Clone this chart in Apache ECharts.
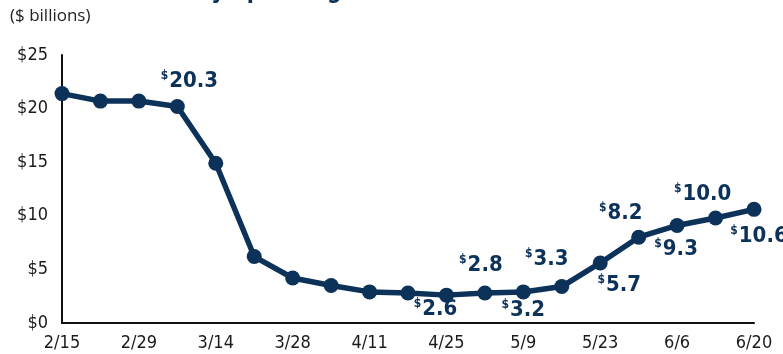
<!DOCTYPE html>
<html>
<head>
<meta charset="utf-8">
<script src="https://cdn.jsdelivr.net/npm/echarts@6/dist/echarts.min.js"></script>
<style>
html,body{margin:0;padding:0;background:#fff;}
#chart{width:783px;height:354px;}
</style>
</head>
<body>
<div id="chart"></div>
<script>
// ---- data ----
var weeks = ['2/15','2/22','2/29','3/7','3/14','3/21','3/28','4/4','4/11','4/18','4/25','5/2','5/9','5/16','5/23','5/30','6/6','6/13','6/20'];
var spending = [21.4, 20.7, 20.7, 20.2, 14.9, 6.2, 4.2, 3.5, 2.9, 2.8, 2.6, 2.8, 2.9, 3.4, 5.6, 8.0, 9.1, 9.8, 10.6];
var labelTexts = [null, null, null, '20.3', null, null, null, null, null, null, '2.6', '2.8', '3.2', '3.3', '5.7', '8.2', '9.3', '10.0', '10.6'];
var yTicks = [0, 5, 10, 15, 20, 25];

// ---- styling (label placement offsets relative to point) ----
var NAVY = '#0c325a';
var labelOffsets = {3:[12,-25],10:[-11,14],11:[-4,-28],12:[0,18],13:[-15,-27],14:[19,22],15:[-18,-24],16:[-1,24],17:[-13,-24],18:[5,27]};
var FONT = '"DejaVu Sans Condensed","DejaVu Sans",sans-serif';

var seriesData = spending.map(function(v, i){
  var d = {value: v};
  if (labelTexts[i]) {
    d.label = {
      show: true,
      position: 'inside',
      offset: labelOffsets[i],
      formatter: '{s|$}{v|' + labelTexts[i] + '}'
    };
  }
  return d;
});

var chart = echarts.init(document.getElementById('chart'), null, {renderer:'canvas'});
chart.setOption({
  animation: false,
  backgroundColor: '#fff',
  graphic: [
    {type:'text', left: 8, top: -19, style:{text:'U.S. Travel Weekly Spending', fill: NAVY, font: 'bold 23px ' + FONT}},
    {type:'text', left: 10, top: 8, style:{text:'($ billions)', fill:'#222', font: '17px "Open Sans",sans-serif'}}
  ],
  grid: {left: 62, right: 29, top: 55, bottom: 31, containLabel: false},
  xAxis: {
    type: 'category',
    data: weeks,
    boundaryGap: false,
    axisLine: {show: true, lineStyle: {color: '#111', width: 2}},
    axisTick: {show: false},
    axisLabel: {interval: 1, color: '#1a1a1a', fontSize: 18, fontFamily: FONT, margin: 11},
    splitLine: {show: false}
  },
  yAxis: {
    type: 'value',
    min: yTicks[0],
    max: yTicks[yTicks.length-1],
    interval: yTicks[1] - yTicks[0],
    axisLine: {show: true, lineStyle: {color: '#111', width: 2}},
    axisTick: {show: false},
    splitLine: {show: false},
    axisLabel: {color: '#1a1a1a', fontSize: 18, fontFamily: FONT, margin: 14, formatter: function(v){return '$' + v;}}
  },
  series: [{
    type: 'line',
    data: seriesData,
    symbol: 'circle',
    symbolSize: 15,
    showAllSymbol: true,
    lineStyle: {color: NAVY, width: 5.5},
    itemStyle: {color: NAVY},
    label: {
      show: false,
      rich: {
        s: {fontSize: 12, fontWeight: 'bold', color: NAVY, fontFamily: FONT, verticalAlign: 'top', padding: [0,1,11,0]},
        v: {fontSize: 22, fontWeight: 'bold', color: NAVY, fontFamily: FONT}
      }
    }
  }]
});
</script>
</body>
</html>
